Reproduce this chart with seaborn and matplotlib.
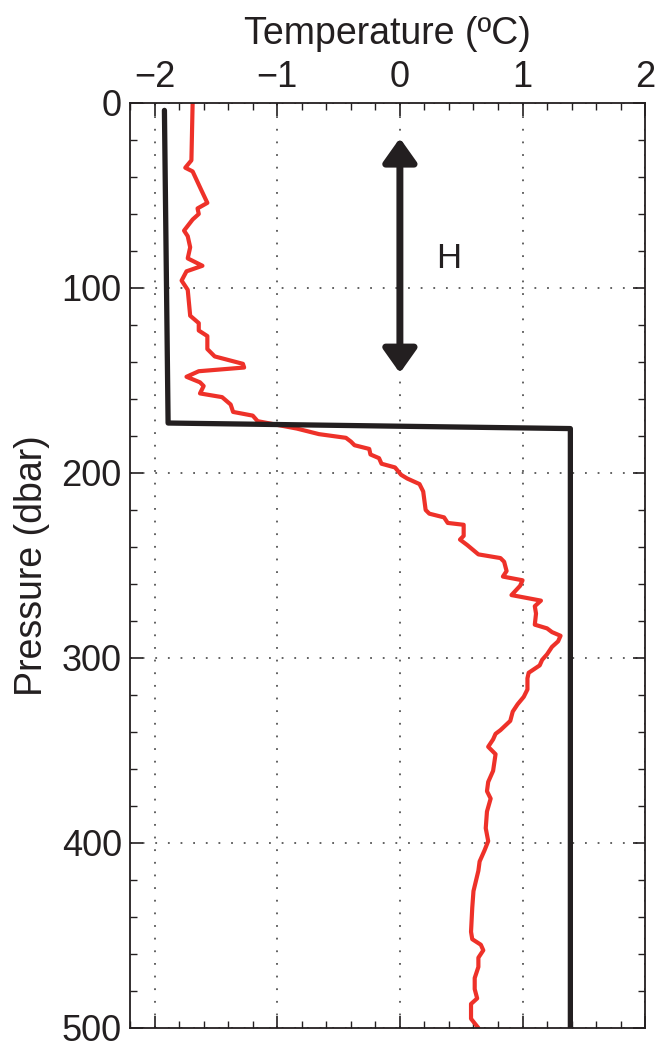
import matplotlib
matplotlib.use("Agg")
import matplotlib.pyplot as plt
import seaborn as sns
from matplotlib.ticker import MultipleLocator

# observed temperature profile (red)
pressure = [0, 31, 35, 37, 47, 54, 57, 60, 63, 69, 72, 78, 84, 88, 91, 96, 101,
            108, 115, 119, 123, 126, 133, 137, 141, 143, 145, 148, 151, 153, 157,
            159, 163, 167, 169, 172, 176, 179, 181, 183, 185, 187, 190, 192, 195,
            197, 201, 203, 206, 210, 220, 222, 224, 227, 228, 234, 236, 239, 244,
            246, 248, 253, 256, 258, 261, 266, 269, 272, 276, 282, 284, 286, 288,
            291, 294, 298, 301, 304, 308, 311, 317, 321, 325, 329, 334, 339, 341,
            344, 348, 352, 361, 367, 372, 376, 383, 392, 399, 404, 410, 415, 426,
            435, 448, 452, 455, 458, 462, 467, 473, 479, 484, 487, 495, 500]
temperature = [-1.69, -1.70, -1.75, -1.69, -1.62, -1.57, -1.65, -1.64, -1.69,
               -1.76, -1.73, -1.71, -1.73, -1.61, -1.74, -1.78, -1.73, -1.72,
               -1.71, -1.64, -1.64, -1.57, -1.57, -1.51, -1.28, -1.27, -1.64,
               -1.74, -1.63, -1.60, -1.63, -1.45, -1.38, -1.36, -1.20, -1.16,
               -0.84, -0.66, -0.44, -0.40, -0.37, -0.25, -0.24, -0.17, -0.15,
               -0.04, 0.01, 0.06, 0.16, 0.19, 0.21, 0.24, 0.36, 0.39, 0.52, 0.52,
               0.49, 0.55, 0.64, 0.82, 0.85, 0.87, 0.84, 1.00, 0.98, 0.91, 1.15,
               1.10, 1.11, 1.10, 1.20, 1.24, 1.31, 1.29, 1.24, 1.20, 1.16, 1.14,
               1.05, 1.04, 1.04, 1.01, 0.96, 0.92, 0.90, 0.82, 0.78, 0.76, 0.72,
               0.78, 0.76, 0.72, 0.71, 0.74, 0.71, 0.70, 0.72, 0.69, 0.65, 0.64,
               0.60, 0.59, 0.58, 0.59, 0.66, 0.68, 0.64, 0.64, 0.61, 0.61, 0.63,
               0.58, 0.58, 0.64]

# idealised two-layer profile (black)
model_pressure = [4, 173, 176, 500]
model_temperature = [-1.92, -1.89, 1.39, 1.39]

# mixed-layer depth arrow
arrow_x = 0.0
arrow_top, arrow_bottom = 19, 146
arrow_label = "H"
label_x, label_p = 0.40, 84

sns.set_theme(style="ticks")
plt.rcParams["font.family"] = ["Liberation Sans", "DejaVu Sans"]

fig = plt.figure(figsize=(6.57, 10.55), dpi=100)
ax = fig.add_axes([0.198, 0.0256, 0.784, 0.8768])

sns.lineplot(x=temperature, y=pressure, sort=False, estimator=None,
             color="#ee3129", lw=3.0, ax=ax, solid_joinstyle="round")
sns.lineplot(x=model_temperature, y=model_pressure, sort=False, estimator=None,
             color="#231f20", lw=3.8, ax=ax)

ax.annotate("", xy=(arrow_x, arrow_top), xytext=(arrow_x, arrow_bottom),
            arrowprops=dict(arrowstyle="<|-|>,head_length=1.2,head_width=0.85",
                            color="#231f20", lw=5, shrinkA=0, shrinkB=0))
ax.text(label_x, label_p, arrow_label, fontsize=25, ha="center", va="center",
        color="#231f20")

ax.set_xlim(-2.2, 2.0)
ax.set_ylim(500, 0)
ax.xaxis.set_major_locator(MultipleLocator(1))
ax.xaxis.set_minor_locator(MultipleLocator(0.2))
ax.yaxis.set_major_locator(MultipleLocator(100))
ax.yaxis.set_minor_locator(MultipleLocator(20))
ax.xaxis.tick_top()
ax.xaxis.set_label_position("top")
ax.tick_params(which="both", direction="in", top=True, bottom=True,
               left=True, right=True, labelsize=26, color="#231f20",
               labelcolor="#231f20")
ax.tick_params(which="major", length=9, width=1.2, pad=6)
ax.tick_params(which="minor", length=5, width=1.0)
ax.set_xticklabels([f"{v:g}".replace("-", "\u2212") for v in ax.get_xticks()])

ax.grid(True, which="major", linestyle=(0, (1, 6)), color="#555555", lw=1.3)
for s in ax.spines.values():
    s.set_color("#231f20")
    s.set_linewidth(1.3)

ax.set_xlabel("Temperature (ºC)", fontsize=27, labelpad=11, color="#231f20")
ax.set_ylabel("Pressure (dbar)", fontsize=27, labelpad=8, color="#231f20")

fig.savefig("out.png", dpi=100)
